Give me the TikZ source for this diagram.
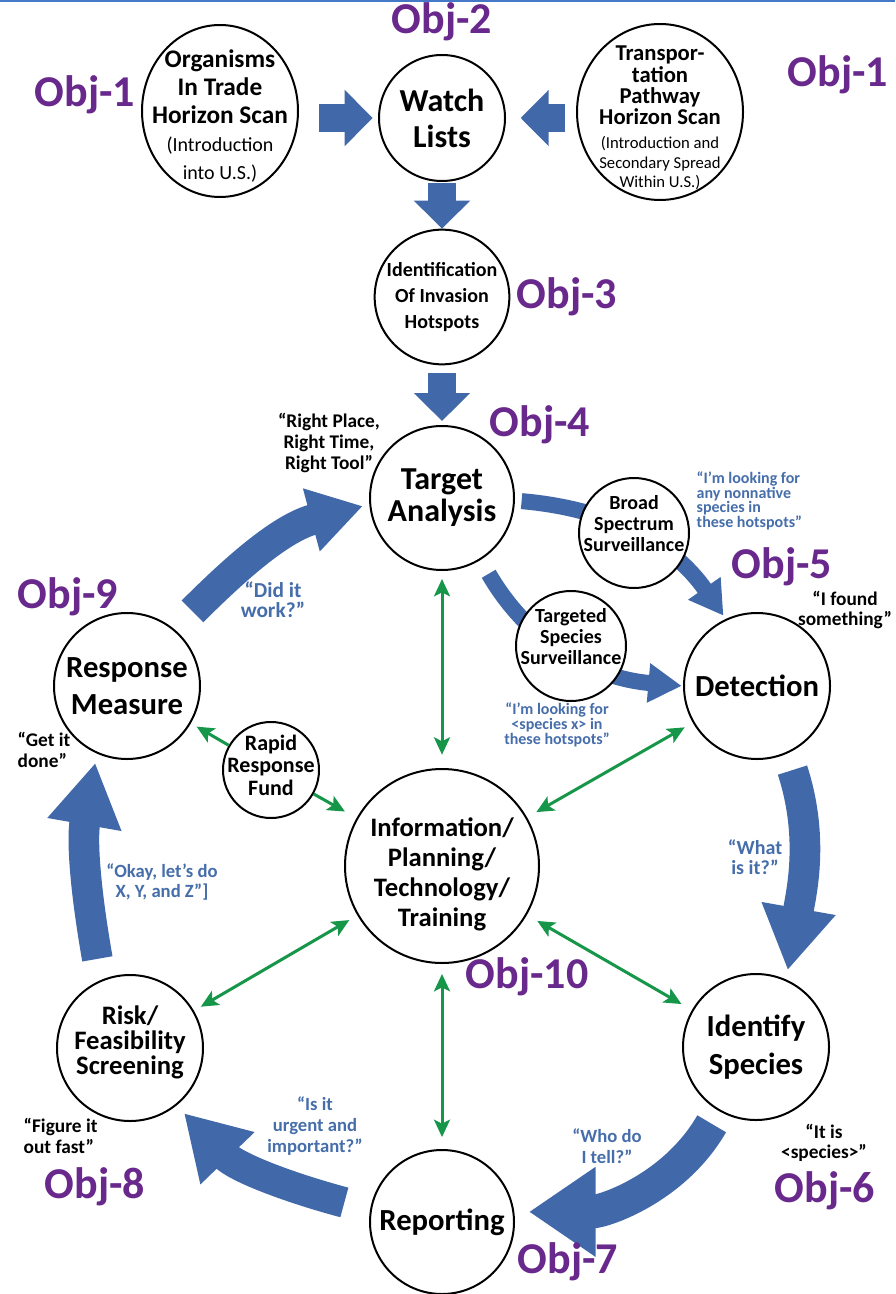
\documentclass[tikz,border=0pt]{standalone}
\usepackage{fontspec}
\setmainfont{Carlito}
\usetikzlibrary{arrows.meta,shapes.geometric,backgrounds}
\definecolor{flowblue}{RGB}{65,105,170}
\definecolor{objpurple}{RGB}{104,40,140}
\definecolor{linkgreen}{RGB}{22,150,72}
\definecolor{talkblue}{RGB}{70,110,170}
\definecolor{rimblue}{RGB}{70,120,200}
\newcommand{\fsz}[2]{\fontsize{#1}{#2}\selectfont}
\newcommand{\notefont}{\mdseries\fsz{15}{18.5}}
\newcommand{\tinynote}{\mdseries\fsz{12.5}{14}}
\newcommand{\padtop}[1]{\rule{0pt}{#1}}
\newcommand{\padbot}[1]{\rule[-#1]{0pt}{0pt}}

\begin{document}
\begin{tikzpicture}
  [x=0.75pt, y=-0.75pt,
   stage/.style={circle, draw, line width=1.5pt, fill=white, inner sep=-50pt, align=center},
   oval/.style={ellipse, draw, line width=1.5pt, fill=white, inner sep=-50pt, align=center},
   objlabel/.style={text=objpurple, font=\bfseries\fsz{33}{33}},
   saying/.style={align=center, font=\bfseries\fsz{14.5}{15.5}},
   talk/.style={text=talkblue, align=center, font=\bfseries\fsz{14}{15.5}},
   block/.style={draw=flowblue, line width=21pt, -{Triangle[width=41pt, length=21pt]}},
   flow/.style={draw=flowblue, line width=23pt, -{Triangle[width=53pt, length=47pt]}},
   survflow/.style={draw=flowblue, line width=12pt, -{Triangle[width=28pt, length=25pt]}},
   link/.style={draw=linkgreen, line width=2.25pt, {Stealth[length=13pt, width=12pt, inset=3pt]}-{Stealth[length=13pt, width=12pt, inset=3pt]}},
   feed/.style={draw=linkgreen, line width=2.25pt, -{Stealth[length=13pt, width=12pt, inset=3pt]}}]
  \useasboundingbox (0,0) rectangle (895,1294);

  \node[oval, minimum width=117pt, minimum height=129pt, font=\bfseries\fsz{19}{21}] (orgs) at (220,111)
    {\padtop{21.5pt}Organisms\\In Trade\\Horizon Scan\\\notefont(Introduction\\\notefont into U.S.)};
  \node[stage, minimum size=94.5pt, font=\bfseries\fsz{24}{27}] (watch) at (442,118) {Watch\\Lists};
  \node[oval, minimum width=124.5pt, minimum height=132pt, font=\bfseries\fsz{17}{16}] (trans) at (660,112)
    {\padtop{20pt}Transpor-\\tation\\Pathway\\Horizon Scan\\[2pt]\tinynote(Introduction and\\[-1.5pt]\tinynote Secondary Spread\\[-1.5pt]\tinynote Within U.S.)};
  \node[stage, minimum size=101pt, font=\bfseries\fsz{15}{19.5}] (hotspot) at (442,297) {Identification\\Of Invasion\\Hotspots};
  \node[stage, minimum size=108pt, font=\bfseries\fsz{24}{24}] (target) at (442,498) {Target\\Analysis};
  \node[stage, minimum size=82.5pt, font=\bfseries\fsz{15}{15.75}] (broad) at (634,533) {Broad\\Spectrum\\Surveillance\padbot{15pt}};
  \node[stage, minimum size=82.5pt, font=\bfseries\fsz{15}{15.75}] (tss) at (571,646) {Targeted\\Species\\Surveillance\padbot{15pt}};
  \node[stage, minimum size=109.5pt, font=\bfseries\fsz{23}{28}] (detect) at (757,686) {Detection};
  \node[stage, minimum size=109.5pt, font=\bfseries\fsz{23}{28}] (resp) at (127,686) {Response\\Measure};
  \node[stage, minimum size=72pt, font=\bfseries\fsz{16.5}{17}] (rapid) at (271,770) {Rapid\\Response\\Fund\padbot{7.5pt}};
  \node[stage, minimum size=145.5pt, font=\bfseries\fsz{20}{22.5}] (info) at (442,866) {\padtop{27pt}Information/\\Planning/\\Technology/\\Training};
  \node[stage, minimum size=109.5pt, font=\bfseries\fsz{23}{28}] (ident) at (756,1047) {Identify\\Species};
  \node[stage, minimum size=109.5pt, font=\bfseries\fsz{20}{19}] (risk) at (130,1048) {Risk/\\Feasibility\\Screening\padbot{12pt}};
  \node[stage, minimum size=108pt, font=\bfseries\fsz{23}{28}] (report) at (442,1222) {Reporting};

  \node[objlabel] (obj1a) at (85,95) {Obj-1};
  \node[objlabel] (obj2) at (442,22) {Obj-2};
  \node[objlabel] (obj1b) at (838,75) {Obj-1};
  \node[objlabel] (obj3) at (567,297) {Obj-3};
  \node[objlabel] (obj4) at (540,425) {Obj-4};
  \node[objlabel] (obj5) at (782,567) {Obj-5};
  \node[objlabel] (obj6) at (825,1191) {Obj-6};
  \node[objlabel] (obj7) at (568,1262) {Obj-7};
  \node[objlabel] (obj8) at (95,1187) {Obj-8};
  \node[objlabel] (obj9) at (68,597) {Obj-9};
  \node[objlabel] (obj10) at (527,977) {Obj-10};

  \node[saying] (rightq) at (329,443) {“Right Place,\\Right Time,\\Right Tool”};
  \node[saying] (foundq) at (845,610) {“I found\\something”};
  \node[saying, align=left, anchor=west] (doneq) at (13,750) {“Get it\\done”};
  \node[saying] (isq) at (824,1143) {“It is\\<species>”};
  \node[saying, align=left, anchor=west] (fastq) at (19,1136) {“Figure it\\out fast”};
  \node[talk, align=left, anchor=west, font=\bfseries\fsz{12}{11}] (anyq) at (692,501)
    {“I’m looking for\\any nonnative\\species in\\these hotspots”};
  \node[talk, font=\bfseries\fsz{16}{15}] (workq) at (273,600) {“Did it\\work?”};
  \node[talk, font=\bfseries\fsz{12}{11}] (speciesq) at (557,725) {“I’m looking for\\<species x> in\\these hotspots”};
  \node[talk, font=\bfseries\fsz{15}{15}] (whatq) at (755,857) {“What\\is it?”};
  \node[talk] (okq) at (162,882) {“Okay, let’s do\\X, Y, and Z”]};
  \node[talk] (urgentq) at (315,1126) {“Is it\\urgent and\\important?”};
  \node[talk] (tellq) at (607,1146) {“Who do\\I tell?”};

  \begin{scope}[on background layer]
    \fill[white] (0,0) rectangle (895,1294);
    \draw[rimblue, line width=1.5pt] (0,1) -- (895,1);
    \draw[block, shorten <=15pt, shorten >=4pt] (orgs.east |- watch.west) -- (watch.west);
    \draw[block, shorten <=8pt, shorten >=11pt] (trans.west |- watch.east) -- (watch.east);
    \draw[block, shorten <=1pt] (watch.south) -- (hotspot.north);
    \draw[block, shorten <=6pt, shorten >=3pt] (hotspot.south) -- (target.north);
    \draw[flow, shorten <=19pt, shorten >=5pt, -{Triangle[width=46pt, length=40pt]}] (resp.50) to[out=45, in=195] (target.185);
    \draw[survflow, shorten <=5pt, shorten >=3pt] (target.-2) to[out=-5, in=125] (detect.115);
    \draw[survflow, shorten <=12pt, shorten >=1pt] (target.-58) to[out=-60, in=175] (detect.180);
    \draw[flow, shorten <=13pt, shorten >=7pt] (detect.-66) to[out=-72, in=80] (ident.66);
    \draw[flow, line width=25pt, shorten <=11pt, shorten >=11pt, -{Triangle[width=64pt, length=50pt]}] (ident.-120) to[out=-120, in=0] (report.8);
    \draw[flow, shorten <=20pt, shorten >=8pt] (report.170) to[out=165, in=-46] (risk.-51);
    \draw[flow, shorten <=16pt, shorten >=7pt] (risk.113) to[out=100, in=-100] (resp.-114);
  \end{scope}

  \draw[link, shorten <=6pt, shorten >=10pt] (target) -- (info);
  \draw[link, shorten <=7.5pt, shorten >=9pt] (info) -- (report);
  \draw[link, shorten <=8pt, shorten >=7pt] (info) -- (detect);
  \draw[link, shorten <=9pt, shorten >=9pt] (info) -- (ident);
  \draw[link, shorten <=7pt, shorten >=6pt] (info) -- (risk);
  \draw[feed, shorten >=5pt] (rapid) -- (resp);
  \draw[feed, shorten >=10pt] (rapid) -- (info);
\end{tikzpicture}
\end{document}
